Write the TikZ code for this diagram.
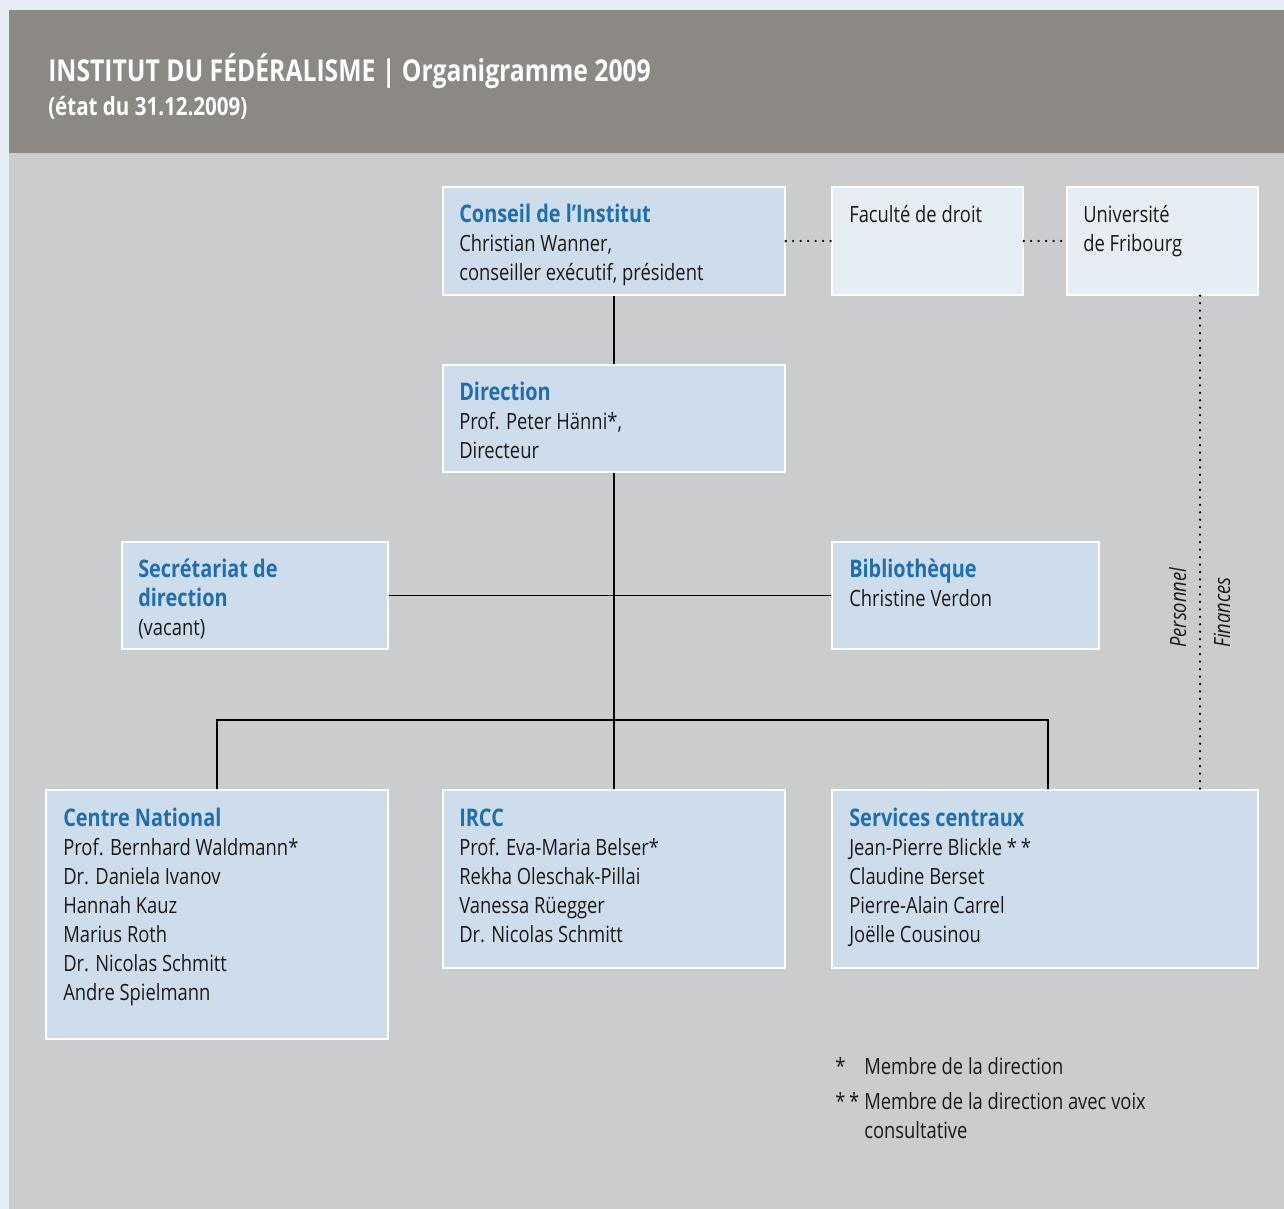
\documentclass[tikz,border=0pt]{standalone}
\usepackage{fontspec}
\setmainfont[FakeStretch=0.82]{Open Sans}
\usetikzlibrary{fit}
\definecolor{outerbg}{HTML}{E5ECF4}
\definecolor{headbg}{HTML}{8C8985}
\definecolor{panel}{HTML}{CBCCCE}
\definecolor{boxfill}{HTML}{CEDDEB}
\definecolor{boxlight}{HTML}{E6EDF5}
\definecolor{headblue}{HTML}{1F6FAE}
\definecolor{ink}{HTML}{1A1A1A}
\newcommand{\hd}[1]{{\fontsize{18.2pt}{21.75pt}\selectfont\bfseries\color{headblue}#1}}
\newcommand{\tlines}[1]{\begin{tabular}[t]{@{}l@{}}#1\end{tabular}}
\begin{document}
\begin{tikzpicture}[x=0.75pt,y=-0.75pt,
  orgbox/.style={draw=white, line width=1.1pt, fill=boxfill, inner sep=0pt},
  lightbox/.style={orgbox, fill=boxlight},
  txt/.style={anchor=base west, inner sep=0pt, text=ink,
    font=\fontsize{16.8pt}{21.75pt}\selectfont},
  conn/.style={draw=black, line width=1.1pt},
  dotline/.style={draw=black, line width=1.9pt, line cap=round, dash pattern=on 0pt off 5.6pt},
  vlabel/.style={anchor=base west, rotate=90, inner sep=0pt, text=ink,
    font=\fontsize{16.8pt}{20pt}\selectfont\itshape}]
\fill[outerbg] (0,0) rectangle (1284,1209);
\fill[headbg] (9,10) rectangle (1284,153);
\fill[panel] (9,153) rectangle (1284,1209);
\useasboundingbox (0,0) rectangle (1284,1209);

\node[anchor=base west, inner sep=0pt, text=white, font=\fontsize{22.6pt}{26pt}\selectfont\bfseries] (title) at (48,82) {INSTITUT DU FÉDÉRALISME | Organigramme 2009};
\node[anchor=base west, inner sep=0pt, text=white, font=\fontsize{18.8pt}{22pt}\selectfont\bfseries] (subtitle) at (48,116) {(état du 31.12.2009)};

% boxes
\node[orgbox, fit={(443,187) (785,295)}] (conseil) {};
\node[lightbox, fit={(832,187) (1023,295)}] (fac) {};
\node[lightbox, fit={(1067,187) (1258,295)}] (uni) {};
\node[orgbox, fit={(443,365) (785,472)}] (direction) {};
\node[orgbox, fit={(122,542) (388,649)}] (secr) {};
\node[orgbox, fit={(832,542) (1099,649)}] (biblio) {};
\node[orgbox, fit={(46,790) (388,1039)}] (cn) {};
\node[orgbox, fit={(443,790) (785,968)}] (ircc) {};
\node[orgbox, fit={(832,790) (1258,968)}] (sc) {};

% texts
\node[txt] (conseilT) at (459,222) {\tlines{\hd{Conseil de l’Institut}\\Christian Wanner,\\conseiller exécutif, président}};
\node[txt] (facT) at (849,222) {Faculté de droit};
\node[txt] (uniT) at (1083,222) {\tlines{Université\\de Fribourg}};
\node[txt] (directionT) at (459,400) {\tlines{\hd{Direction}\\Prof. Peter Hänni*,\\Directeur}};
\node[txt] (secrT) at (138,577) {\tlines{\hd{Secrétariat de}\\\hd{direction}\\(vacant)}};
\node[txt] (biblioT) at (849,577) {\tlines{\hd{Bibliothèque}\\Christine Verdon}};
\node[txt] (cnT) at (63,826) {\tlines{\hd{Centre National}\\Prof. Bernhard Waldmann*\\Dr. Daniela Ivanov\\Hannah Kauz\\Marius Roth\\Dr. Nicolas Schmitt\\Andre Spielmann}};
\node[txt] (irccT) at (459,826) {\tlines{\hd{IRCC}\\Prof. Eva-Maria Belser*\\Rekha Oleschak-Pillai\\Vanessa Rüegger\\Dr. Nicolas Schmitt}};
\node[txt] (scT) at (849,826) {\tlines{\hd{Services centraux}\\Jean-Pierre Blickle *\,*\\Claudine Berset\\Pierre-Alain Carrel\\Joëlle Cousinou}};

% connectors
\coordinate (j) at (614,720);
\coordinate (dx) at (1200,0);
\draw[conn] (conseil.south) -- (direction.north);
\draw[conn] (direction.south) -- (ircc.north);
\draw[conn] (secr.east) -- (biblio.west);
\draw[conn] (cn.north) |- (j);
\draw[conn] (j) -| ([xshift=2.25pt]sc.north);
\draw[dotline] (conseil.east) -- (fac.west);
\draw[dotline] (fac.east) -- (uni.west);
\draw[dotline] (uni.south -| dx) -- (sc.north -| dx);

\node[vlabel] (pers) at (1186,648) {Personnel};
\node[vlabel] (fin) at (1230,648) {Finances};

% legend
\node[txt] (s1) at (835,1074) {*};
\node[txt] (l1) at (864,1074) {Membre de la direction};
\node[txt] (s2) at (835,1109) {*\,*};
\node[txt] (l2) at (864,1109) {\tlines{Membre de la direction avec voix\\consultative}};
\end{tikzpicture}
\end{document}
